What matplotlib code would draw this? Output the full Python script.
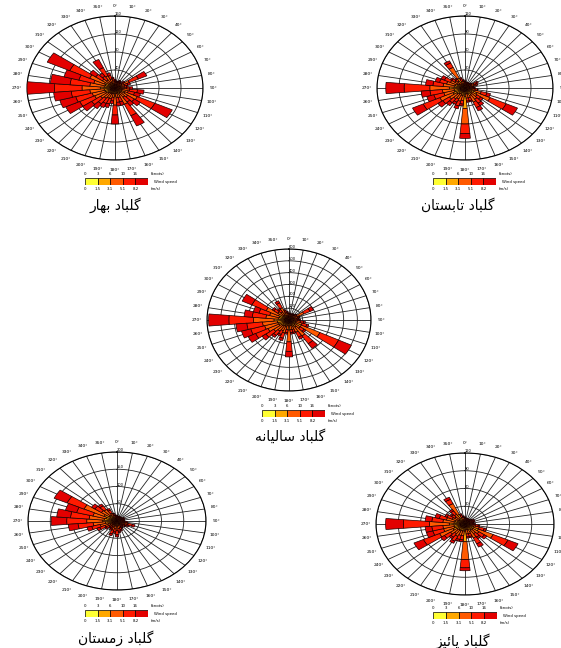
import numpy as np
import matplotlib.pyplot as plt

W, H = 561, 648

directions = np.arange(0, 360, 10)
speed_colors = ['#ffff33', '#ffa800', '#ff5a00', '#ff1a00', '#e30000']
knots_labels = ['0', '3', '6', '10', '16']
ms_labels = ['0', '1.5', '3.1', '5.1', '8.2']

# spring - frequencies per speed class, 0..350 deg
spring_c1 = [4,4,4,4,4,4,5,4,4,5,5,5,6,5,5,6,5,5,6,5,5,5,5,5,6,6,6,8,6,6,6,5,5,5,5,4]
spring_c2 = [5,4,4,5,4,5,9,6,6,7,8,8,14,9,8,12,7,7,12,7,8,8,9,10,13,13,14,18,14,12,15,9,7,9,7,5]
spring_c3 = [5,4,4,5,4,6,15,8,7,9,14,12,25,14,12,22,10,10,20,9,12,12,14,17,22,24,26,34,26,22,30,14,10,16,9,7]
spring_c4 = [3,2,2,3,2,4,18,6,4,6,14,12,35,15,13,28,10,10,22,8,12,13,15,20,30,31,34,50,36,28,40,15,10,20,8,5]
spring_c5 = [2,2,2,2,2,3,17,5,3,5,12,11,35,13,10,25,8,8,20,6,8,10,13,20,28,30,32,50,36,28,45,13,8,20,6,3]

# summer
summer_c1 = [3,3,3,3,3,3,4,4,3,3,4,5,6,4,5,5,4,4,14,5,5,4,4,5,6,5,5,7,5,5,4,4,3,4,3,3]
summer_c2 = [3,3,3,3,3,3,5,4,3,4,5,8,12,7,8,9,6,6,20,7,8,7,8,9,12,10,10,14,10,9,8,6,5,14,4,4]
summer_c3 = [3,2,2,2,2,3,5,5,3,4,5,10,20,9,10,12,7,7,26,9,10,9,10,12,20,15,16,27,15,12,10,7,6,20,5,4]
summer_c4 = [2,1,1,1,1,2,4,3,2,2,3,8,24,6,8,10,5,5,16,6,8,6,8,11,25,14,17,35,14,10,9,5,4,8,4,2]
summer_c5 = [1,1,1,1,1,1,2,2,1,1,1,5,17,4,5,6,2,2,8,3,5,4,6,8,16,10,12,25,10,6,5,2,2,4,2,1]

# annual
annual_c1 = [15,14,14,15,15,15,20,16,15,16,18,20,30,20,25,20,18,18,25,18,20,20,20,22,25,25,25,30,25,22,25,20,18,20,16,15]
annual_c2 = [20,18,18,20,20,22,40,25,22,25,30,35,70,35,50,40,30,30,60,30,40,35,40,45,55,60,60,80,55,50,60,35,30,40,25,22]
annual_c3 = [15,14,14,15,15,20,60,25,20,25,35,45,150,45,90,55,35,35,100,35,55,45,55,70,90,100,110,150,90,75,100,45,35,55,25,20]
annual_c4 = [6,5,5,6,6,10,50,12,10,12,25,35,150,35,80,45,25,25,80,25,45,35,45,70,100,105,115,180,100,80,115,35,25,45,15,10]
annual_c5 = [4,3,3,4,4,5,28,6,5,6,12,15,104,15,49,20,12,12,47,12,20,15,20,33,60,70,80,148,60,43,78,15,12,20,9,5]

# winter
winter_c1 = [4,4,4,4,4,4,4,4,4,4,5,6,5,5,4,5,5,5,6,5,6,5,5,5,6,7,8,10,9,8,10,7,6,5,5,4]
winter_c2 = [4,4,4,4,4,4,5,5,4,5,6,9,7,6,5,6,7,8,10,8,10,7,6,8,11,14,18,22,20,18,22,14,15,9,6,5]
winter_c3 = [4,3,3,3,3,3,4,4,4,4,6,11,8,6,5,6,8,9,12,10,12,8,7,9,13,18,28,36,34,30,50,22,20,11,6,4]
winter_c4 = [3,2,2,2,2,2,3,3,3,3,4,10,6,5,4,5,6,8,12,9,11,6,5,8,13,20,34,45,42,38,42,18,13,10,5,3]
winter_c5 = [1,1,1,1,1,1,2,2,1,2,3,6,4,2,2,2,4,4,6,4,5,4,3,4,7,11,22,35,31,26,32,9,6,5,2,2]

# autumn
autumn_c1 = [3,3,3,3,3,3,3,3,3,3,4,5,6,5,5,5,4,4,12,5,5,5,5,5,6,5,5,7,5,5,4,4,4,4,3,3]
autumn_c2 = [3,3,3,3,3,3,4,4,3,4,5,7,14,8,7,9,6,6,18,7,7,8,7,8,12,10,10,14,10,9,7,6,7,14,4,4]
autumn_c3 = [3,2,2,2,2,3,3,3,3,3,5,8,22,10,8,12,7,7,30,8,8,10,8,11,20,15,15,27,15,12,8,7,9,20,5,4]
autumn_c4 = [2,1,1,1,1,2,2,2,2,2,4,7,22,9,7,11,5,5,14,7,7,9,7,10,24,15,15,35,15,10,8,5,7,8,4,2]
autumn_c5 = [1,1,1,1,1,1,2,2,1,2,2,3,15,4,3,6,2,2,5,3,3,4,3,6,14,9,9,24,9,6,3,2,3,4,2,1]

titles = ['گلباد بهار', 'گلباد تابستان', 'گلباد سالیانه', 'گلباد زمستان', 'گلباد پائیز']

# no raqm in matplotlib -> shape the persian text by hand
FORMS = {
    'ا': (0xFE8D, 0xFE8E, None, None),
    'ب': (0xFE8F, 0xFE90, 0xFE91, 0xFE92),
    'پ': (0xFB56, 0xFB57, 0xFB58, 0xFB59),
    'ت': (0xFE95, 0xFE96, 0xFE97, 0xFE98),
    'د': (0xFEA9, 0xFEAA, None, None),
    'ر': (0xFEAD, 0xFEAE, None, None),
    'ز': (0xFEAF, 0xFEB0, None, None),
    'س': (0xFEB1, 0xFEB2, 0xFEB3, 0xFEB4),
    'گ': (0xFB92, 0xFB93, 0xFB94, 0xFB95),
    'ل': (0xFEDD, 0xFEDE, 0xFEDF, 0xFEE0),
    'م': (0xFEE1, 0xFEE2, 0xFEE3, 0xFEE4),
    'ن': (0xFEE5, 0xFEE6, 0xFEE7, 0xFEE8),
    'ه': (0xFEE9, 0xFEEA, 0xFEEB, 0xFEEC),
    'ی': (0xFEEF, 0xFEF0, 0xFEF3, 0xFEF4),
    'ئ': (0xFE89, 0xFE8A, 0xFE8B, 0xFE8C),
}


def shape(text):
    out = []
    for i, ch in enumerate(text):
        if ch not in FORMS:
            out.append(ch)
            continue
        prev = text[i - 1] if i > 0 else ' '
        nxt = text[i + 1] if i < len(text) - 1 else ' '
        join_prev = prev in FORMS and FORMS[prev][2] is not None
        join_next = nxt in FORMS and FORMS[ch][2] is not None
        iso, fin, ini, med = FORMS[ch]
        if join_prev and join_next:
            code = med
        elif join_prev:
            code = fin
        elif join_next:
            code = ini
        else:
            code = iso
        out.append(chr(code))
    return ''.join(out[::-1])


def box(x0, y0, x1, y1):
    return [x0 / W, 1 - y1 / H, (x1 - x0) / W, (y1 - y0) / H]


def draw_rose(fig, cx, cy, a, b, classes, rmax, rstep, leg, title_xy, title):
    ax = fig.add_axes(box(cx - a, cy - b, cx + a, cy + b), projection='polar')
    ax.set_aspect('auto')
    ax.set_theta_zero_location('N')
    ax.set_theta_direction(-1)
    theta = np.deg2rad(directions)
    bottom = np.zeros(len(directions))
    for vals, col in zip(classes, speed_colors):
        vals = np.array(vals, dtype=float)
        ax.bar(theta, vals, width=np.deg2rad(10), bottom=bottom, color=col,
               edgecolor='#1a0000', linewidth=0.5, zorder=3)
        bottom += vals
    ax.set_ylim(0, rmax)
    ax.set_thetagrids(directions, [f'{d}°' for d in directions], fontsize=3.2)
    rticks = np.arange(rstep, rmax + 1, rstep)
    ax.set_rgrids(rticks, [str(t) for t in rticks], angle=0, fontsize=2.6)
    ax.grid(color='#222222', linewidth=0.6)
    ax.spines['polar'].set_linewidth(0.8)
    ax.tick_params(axis='x', pad=0.5, length=0)
    ax.tick_params(axis='y', pad=0, length=0)

    # speed legend
    lx0, ly0, lx1, ly1 = leg
    lax = fig.add_axes(box(lx0, ly0, lx1, ly1))
    lax.bar(np.arange(5), [1] * 5, width=1, align='edge', color=speed_colors,
            edgecolor='black', linewidth=0.5)
    lax.set_xlim(0, 5)
    lax.set_ylim(0, 1)
    lax.axis('off')
    for i in range(5):
        lax.text(i, 1.55, knots_labels[i], fontsize=2.8, ha='center', va='center')
        lax.text(i, -0.6, ms_labels[i], fontsize=2.8, ha='center', va='center')
    lax.text(5.2, 1.55, '(knots)', fontsize=2.8, ha='left', va='center')
    lax.text(5.2, -0.6, '(m/s)', fontsize=2.8, ha='left', va='center')
    lax.text(5.45, 0.5, 'Wind speed', fontsize=2.8, ha='left', va='center')

    fig.text(title_xy[0] / W, 1 - title_xy[1] / H, shape(title), fontsize=10,
             ha='center', va='center', family='DejaVu Sans')


fig = plt.figure(figsize=(W / 100, H / 100), dpi=100)

draw_rose(fig, 115, 88, 88, 72,
          [spring_c1, spring_c2, spring_c3, spring_c4, spring_c5],
          160, 40, (85, 178, 148, 185), (115, 205), titles[0])
draw_rose(fig, 465, 88, 88, 72,
          [summer_c1, summer_c2, summer_c3, summer_c4, summer_c5],
          120, 30, (433, 178, 496, 185), (458, 205), titles[1])
draw_rose(fig, 289, 320, 82, 71,
          [annual_c1, annual_c2, annual_c3, annual_c4, annual_c5],
          600, 100, (262, 410, 325, 417), (290, 436), titles[2])
draw_rose(fig, 117, 521, 89, 69,
          [winter_c1, winter_c2, winter_c3, winter_c4, winter_c5],
          200, 50, (85, 610, 148, 617), (116, 638), titles[3])
draw_rose(fig, 465, 524, 89, 71,
          [autumn_c1, autumn_c2, autumn_c3, autumn_c4, autumn_c5],
          120, 30, (433, 612, 497, 619), (463, 641), titles[4])

fig.savefig('out.png', dpi=100)
